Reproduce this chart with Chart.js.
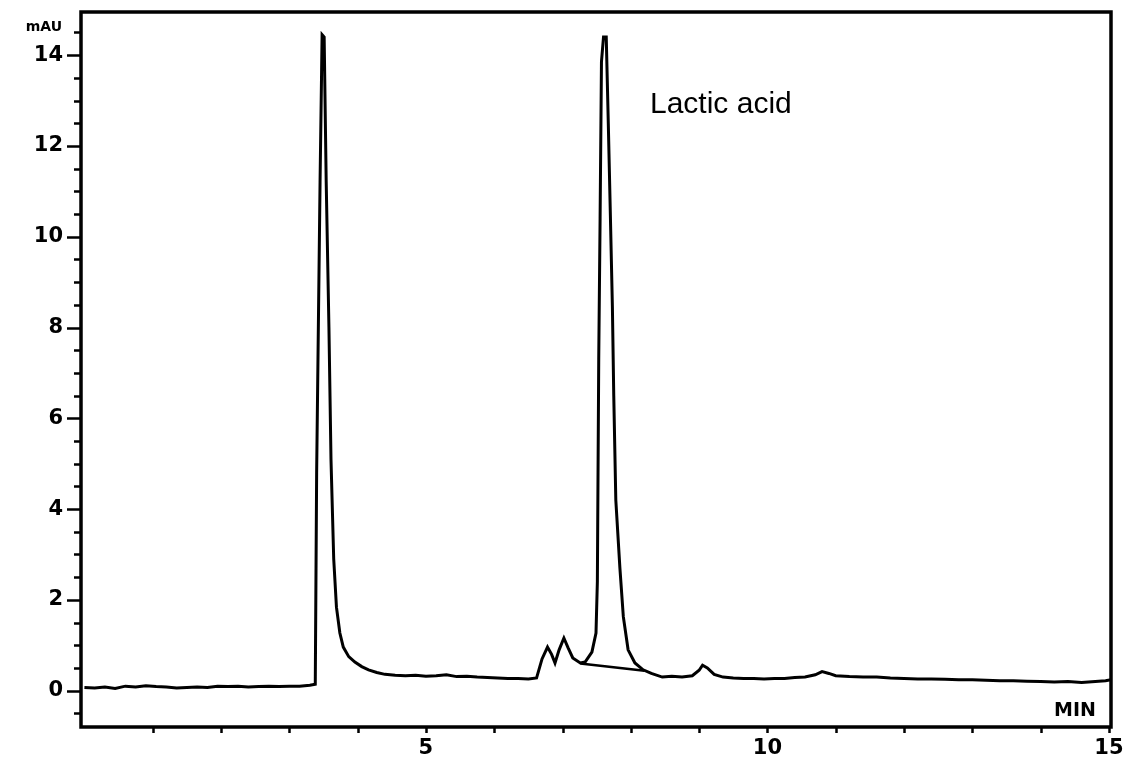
<!DOCTYPE html>
<html lang="en">
<head>
    <meta charset="UTF-8">
    <title>Chromatogram - Lactic acid</title>
    <script src="https://cdn.jsdelivr.net/npm/chart.js"></script>
    <style>
        html, body {
            margin: 0;
            padding: 0;
            background: #ffffff;
        }
        .chart-box {
            position: relative;
            width: 1128px;
            height: 761px;
        }
    </style>
</head>
<body>
    <div class="chart-box">
        <canvas id="chart"></canvas>
    </div>

    <script>
        // Retention time (min) and detector signal (mAU)
        const times = [
            0.00, 0.15, 0.30, 0.45, 0.60, 0.75, 0.90, 1.05, 1.20, 1.35, 1.50, 1.65, 1.80, 1.95,
            2.10, 2.25, 2.40, 2.55, 2.70, 2.85, 3.00, 3.15, 3.30, 3.38,
            3.40, 3.45, 3.48, 3.51, 3.54, 3.58, 3.61, 3.65, 3.69, 3.74, 3.79, 3.87, 3.96, 4.06,
            4.16, 4.28, 4.40, 4.55, 4.70, 4.85, 5.00, 5.15, 5.30, 5.45, 5.60, 5.75, 5.90, 6.05,
            6.20, 6.35, 6.50, 6.62, 6.70, 6.78, 6.84, 6.89, 6.95, 7.02, 7.08, 7.15, 7.26, 7.33,
            7.43, 7.49, 7.51, 7.53, 7.55, 7.57, 7.60, 7.64, 7.67, 7.70, 7.73, 7.75, 7.78, 7.84,
            7.89, 7.96, 8.06, 8.18, 8.30, 8.46, 8.60, 8.75, 8.90, 9.00, 9.05, 9.12, 9.22, 9.35,
            9.50, 9.65, 9.80, 9.95, 10.10, 10.25, 10.40, 10.55, 10.70, 10.80, 10.90, 11.00,
            11.20, 11.40, 11.60, 11.80, 12.00, 12.20, 12.40, 12.60, 12.80, 13.00, 13.20, 13.40,
            13.60, 13.80, 14.00, 14.20, 14.40, 14.60, 14.80, 14.95, 15.03
        ];
        const mau = [
            0.07, 0.06, 0.08, 0.05, 0.10, 0.08, 0.11, 0.09, 0.08, 0.06, 0.07, 0.08, 0.07, 0.10,
            0.09, 0.10, 0.08, 0.09, 0.10, 0.09, 0.10, 0.10, 0.12, 0.14,
            4.80, 11.20, 14.45, 14.40, 11.20, 8.00, 5.10, 2.90, 1.84, 1.27, 0.96, 0.75, 0.63, 0.53,
            0.46, 0.40, 0.36, 0.34, 0.33, 0.34, 0.32, 0.33, 0.35, 0.31, 0.32, 0.30, 0.29, 0.28,
            0.27, 0.27, 0.26, 0.28, 0.70, 0.96, 0.80, 0.61, 0.90, 1.16, 0.95, 0.72, 0.61, 0.63,
            0.85, 1.27, 2.40, 7.30, 10.40, 13.85, 14.40, 14.40, 12.50, 10.50, 8.45, 6.50, 4.20, 2.70,
            1.63, 0.90, 0.61, 0.46, 0.38, 0.30, 0.32, 0.30, 0.33, 0.45, 0.56, 0.50, 0.36, 0.30,
            0.28, 0.27, 0.27, 0.26, 0.27, 0.27, 0.29, 0.30, 0.35, 0.42, 0.38, 0.33,
            0.31, 0.30, 0.30, 0.28, 0.27, 0.26, 0.26, 0.25, 0.24, 0.24, 0.23, 0.22,
            0.22, 0.21, 0.20, 0.19, 0.20, 0.18, 0.20, 0.22, 0.24
        ];

        // Integration baseline under the lactic acid peak
        const baseTimes = [7.26, 8.20];
        const baseMau = [0.60, 0.44];

        // Labelled ticks
        const yTickLabels = [0, 2, 4, 6, 8, 10, 12, 14];
        const xTickLabels = [5, 10, 15];

        const peakLabel = 'Lactic acid';

        const trace = times.map((t, i) => ({ x: t, y: mau[i] }));
        const baseline = baseTimes.map((t, i) => ({ x: t, y: baseMau[i] }));

        const tickFont = { family: "'DejaVu Sans', sans-serif", size: 21, weight: 'bold' };

        // frame, tick marks and the texts
        const frame = {
            id: 'frame',
            afterDraw(chart) {
                const c = chart.ctx;
                const a = chart.chartArea;
                const xs = chart.scales.x;
                const ys = chart.scales.y;
                c.save();
                c.strokeStyle = '#000';
                c.fillStyle = '#000';

                c.lineWidth = 3.5;
                c.strokeRect(a.left, a.top, a.right - a.left, a.bottom - a.top);

                // y ticks: every 0.5, longer on labelled values
                c.lineWidth = 2.5;
                c.beginPath();
                for (let v = -0.5; v <= 14.5; v += 0.5) {
                    const py = Math.round(ys.getPixelForValue(v)) + 0.5;
                    const len = yTickLabels.includes(v) ? 14 : 7;
                    c.moveTo(a.left, py);
                    c.lineTo(a.left - len, py);
                }
                c.stroke();

                // x ticks: every minute
                c.beginPath();
                for (let t = 1; t <= 15; t++) {
                    const px = Math.round(xs.getPixelForValue(t)) + 0.5;
                    c.moveTo(px, a.bottom);
                    c.lineTo(px, a.bottom + 6);
                }
                c.stroke();

                c.font = "bold 14px 'DejaVu Sans', sans-serif";
                c.textAlign = 'right';
                c.textBaseline = 'middle';
                c.fillText('mAU', 62, 27);

                c.font = "bold 19px 'DejaVu Sans', sans-serif";
                c.fillText('MIN', 1096, 711);

                c.font = "30px 'Liberation Sans', Arial, sans-serif";
                c.textAlign = 'left';
                c.textBaseline = 'alphabetic';
                c.fillText(peakLabel, 650, 113);
                c.restore();
            }
        };

        const ctx = document.getElementById('chart').getContext('2d');
        new Chart(ctx, {
            type: 'line',
            data: {
                datasets: [
                    {
                        data: trace,
                        borderColor: '#000',
                        borderWidth: 3,
                        pointRadius: 0,
                        tension: 0
                    },
                    {
                        data: baseline,
                        borderColor: '#000',
                        borderWidth: 2.6,
                        pointRadius: 0,
                        tension: 0
                    }
                ]
            },
            options: {
                responsive: true,
                maintainAspectRatio: false,
                animation: false,
                layout: {
                    padding: { top: 12, right: 17, left: 0, bottom: 0 }
                },
                plugins: {
                    legend: { display: false },
                    tooltip: { enabled: false }
                },
                scales: {
                    x: {
                        type: 'linear',
                        min: -0.05,
                        max: 15.03,
                        afterFit(scale) {
                            scale.height = 34;
                            scale.paddingLeft = 0;
                            scale.paddingRight = 0;
                        },
                        afterBuildTicks(scale) {
                            scale.ticks = xTickLabels.map(v => ({ value: v }));
                        },
                        grid: { display: false, drawTicks: false },
                        border: { display: false },
                        ticks: {
                            autoSkip: false,
                            maxRotation: 0,
                            padding: 9,
                            color: '#000',
                            font: tickFont,
                            callback: v => String(v)
                        }
                    },
                    y: {
                        min: -0.8,
                        max: 14.95,
                        afterFit(scale) {
                            scale.width = 81;
                            scale.paddingTop = 0;
                            scale.paddingBottom = 0;
                        },
                        afterBuildTicks(scale) {
                            scale.ticks = yTickLabels.map(v => ({ value: v }));
                        },
                        grid: { display: false, drawTicks: false },
                        border: { display: false },
                        ticks: {
                            autoSkip: false,
                            padding: 18,
                            color: '#000',
                            font: tickFont,
                            callback: v => String(v)
                        }
                    }
                }
            },
            plugins: [frame]
        });
    </script>
</body>
</html>
